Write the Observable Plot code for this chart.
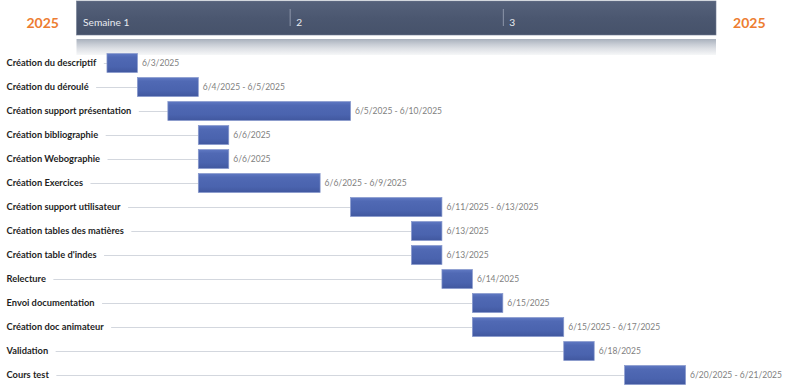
<!DOCTYPE html>
<html><head><meta charset="utf-8">
<script src="https://cdn.jsdelivr.net/npm/d3@7"></script>
<script src="https://cdn.jsdelivr.net/npm/@observablehq/plot@0.6"></script>
<style>
body{margin:0;background:#fff}
#wrap{position:relative;width:795px;height:387px;overflow:hidden}
#hdr,#main{position:absolute;left:0}
#hdr{top:0}
#main{top:50px}
#wrap svg{display:block}
</style>
</head><body><div id="wrap"><div id="hdr"></div><div id="main"></div></div>
<script>
const tasks = [
  "Création du descriptif",
  "Création du déroulé",
  "Création support présentation",
  "Création bibliographie",
  "Création Webographie",
  "Création Exercices",
  "Création support utilisateur",
  "Création tables des matières",
  "Création table d'indes",
  "Relecture",
  "Envoi documentation",
  "Création doc animateur",
  "Validation",
  "Cours test"
];
const startDates = ["2025-06-03","2025-06-04","2025-06-05","2025-06-06","2025-06-06","2025-06-06","2025-06-11","2025-06-13","2025-06-13","2025-06-14","2025-06-15","2025-06-15","2025-06-18","2025-06-20"];
const endDates   = ["2025-06-03","2025-06-05","2025-06-10","2025-06-06","2025-06-06","2025-06-09","2025-06-13","2025-06-13","2025-06-13","2025-06-14","2025-06-15","2025-06-17","2025-06-18","2025-06-21"];
const weekLabels = ["Semaine 1","2","3"];
const weekStarts = ["2025-06-02","2025-06-09","2025-06-16"];
const timelineEnd = "2025-06-23";
const yearLabel = "2025";

const FONT = "Lato, 'Open Sans', sans-serif";
const LABEL_SIZE = 9.3;
const DAY = 864e5;
const parse = s => new Date(s + "T00:00:00Z");
const fmt = d => `${d.getUTCMonth()+1}/${d.getUTCDate()}/${d.getUTCFullYear()}`;

const xOpts = {type:"utc", domain:[parse(weekStarts[0]), parse(timelineEnd)], range:[76.5, 716], axis:null};
const xScale = Plot.scale({x: xOpts});

const ctx = document.createElement("canvas").getContext("2d");
ctx.font = `bold ${LABEL_SIZE}px Lato`;

const rows = tasks.map((task,i) => {
  const start = parse(startDates[i]);
  const end = parse(endDates[i]);
  const w = ctx.measureText(task).width;
  return {
    task, start,
    endExcl: new Date(+end + DAY),
    range: startDates[i] === endDates[i] ? fmt(start) : `${fmt(start)} - ${fmt(end)}`,
    lineStart: xScale.invert(6 + w + 8)
  };
});

const weeks = weekLabels.map((label,i) => ({label, start: parse(weekStarts[i])}));
const span = [{start: parse(weekStarts[0]), end: parse(timelineEnd)}];

const header = Plot.plot({
  width:795, height:56, marginTop:1, marginBottom:0, marginLeft:0, marginRight:0,
  x: xOpts,
  style:{background:"transparent", fontFamily:FONT},
  marks:[
    Plot.rect(span, {x1:"start", x2:"end", insetBottom:21, fill:"url(#hdrGrad)", stroke:"#6f7a8f", strokeWidth:0.6}),
    Plot.rect(span, {x1:"start", x2:"end", insetTop:38, insetBottom:1, fill:"url(#bandGrad)"}),
    Plot.ruleX(weeks.slice(1), {x:"start", stroke:"#8d97aa", strokeWidth:1, insetTop:8, insetBottom:30}),
    Plot.text(weeks, {x:"start", text:"label", frameAnchor:"top", dy:17, dx:6, textAnchor:"start", fill:"#e8ebf0", fontSize:10.2}),
    Plot.text([yearLabel], {text:d=>d, frameAnchor:"top-left", dx:26, dy:17, textAnchor:"start", fill:"#ed7d31", fontWeight:"bold", fontSize:14}),
    Plot.text([yearLabel], {text:d=>d, frameAnchor:"top-right", dx:-30, dy:17, textAnchor:"end", fill:"#ed7d31", fontWeight:"bold", fontSize:14})
  ]
});
header.insertAdjacentHTML("afterbegin", `<defs>
<linearGradient id="hdrGrad" x1="0" y1="0" x2="0" y2="1">
<stop offset="0" stop-color="#56627b"/><stop offset="0.5" stop-color="#4b5770"/><stop offset="1" stop-color="#46526a"/>
</linearGradient>
<linearGradient id="bandGrad" x1="0" y1="0" x2="0" y2="1">
<stop offset="0" stop-color="#a9b1bd"/><stop offset="0.35" stop-color="#c9ced6"/><stop offset="0.6" stop-color="#dde0e5"/><stop offset="1" stop-color="#f6f7f8"/>
</linearGradient></defs>`);
document.getElementById("hdr").append(header);

const main = Plot.plot({
  width:795, height:337, margin:0,
  x: xOpts,
  y: {domain:tasks, range:[0,337], padding:0, axis:null},
  style:{background:"transparent", fontFamily:FONT},
  marks:[
    Plot.ruleY(rows.filter(d => d.lineStart < d.start), {y:"task", x1:"lineStart", x2:"start", stroke:"#d3d7de", strokeWidth:1}),
    Plot.barX(rows, {x1:"start", x2:"endExcl", y:"task", insetTop:2.5, insetBottom:2.5, fill:"url(#barGrad)", stroke:"#8798cc", strokeWidth:0.7}),
    Plot.text(rows, {y:"task", text:"task", frameAnchor:"left", dx:6, textAnchor:"start", fontWeight:"bold", fontSize:LABEL_SIZE, fill:"#1f1f1f"}),
    Plot.text(rows, {x:"endExcl", y:"task", text:"range", dx:4, textAnchor:"start", fontSize:8.5, fill:"#7f7f7f"})
  ]
});
main.insertAdjacentHTML("afterbegin", `<defs>
<linearGradient id="barGrad" x1="0" y1="0" x2="0" y2="1">
<stop offset="0" stop-color="#6079c3"/><stop offset="0.2" stop-color="#5069b4"/><stop offset="0.7" stop-color="#4a63ae"/><stop offset="1" stop-color="#41589f"/>
</linearGradient></defs>`);
document.getElementById("main").append(main);
</script>
</body></html>
